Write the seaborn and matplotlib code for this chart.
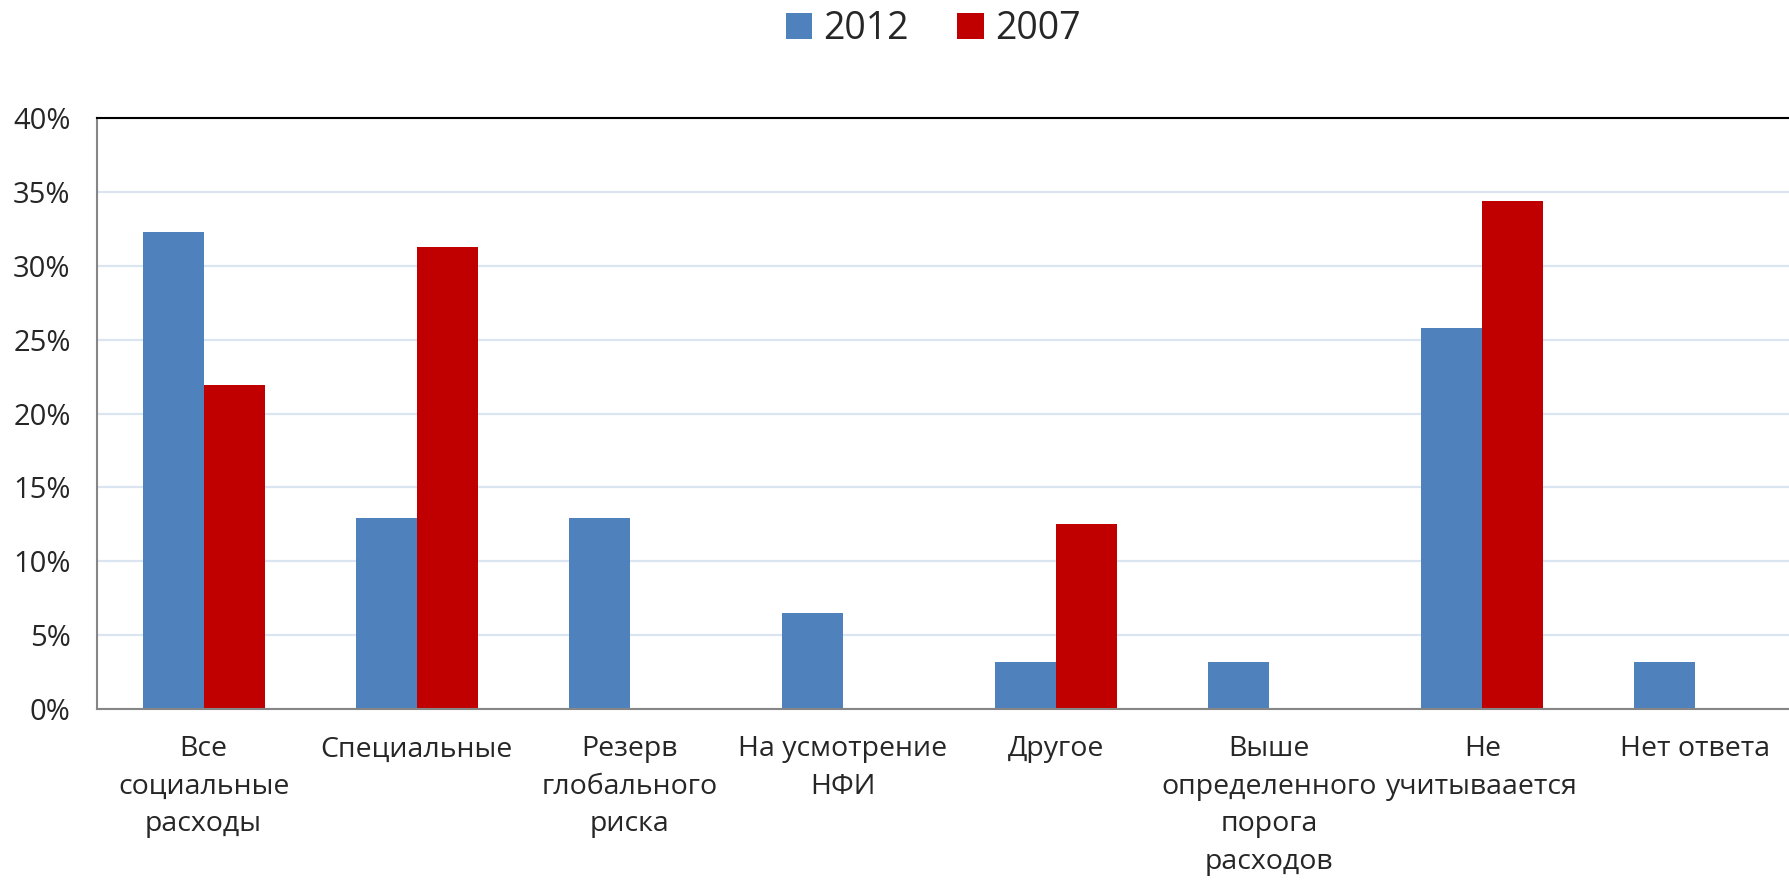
import matplotlib
matplotlib.use("Agg")
import matplotlib.pyplot as plt
from matplotlib.ticker import PercentFormatter, FixedLocator
import pandas as pd
import seaborn as sns

# Data (share of respondents, %)
categories = [
    "Все\nсоциальные\nрасходы",
    "Специальные",
    "Резерв\nглобального\nриска",
    "На усмотрение\nНФИ",
    "Другое",
    "Выше\nопределенного\nпорога\nрасходов",
    "Не\nучитываается",
    "Нет ответа",
]
years = ["2012", "2007"]
values_2012 = [32.3, 12.9, 12.9, 6.5, 3.2, 3.2, 25.8, 3.2]
values_2007 = [21.9, 31.3, 0.0, 0.0, 12.5, 0.0, 34.4, 0.0]
colors = {"2012": "#4f81bd", "2007": "#c00000"}

df = pd.DataFrame({
    "category": categories * 2,
    "year": [years[0]] * len(categories) + [years[1]] * len(categories),
    "value": values_2012 + values_2007,
})

sns.set_style("white")
plt.rcParams["font.family"] = ["Open Sans", "DejaVu Sans"]

fig = plt.figure(figsize=(17.9, 8.81), dpi=100)
ax = fig.add_axes([0.0542, 0.1952, 0.9525, 0.6708])

sns.barplot(data=df, x="category", y="value", hue="year", hue_order=years,
            palette=colors, width=0.573, gap=0, linewidth=0, saturation=1,
            ax=ax, legend=True)

ax.set_xlim(-0.5, len(categories) - 0.5)
ax.set_ylim(0, 40)
ax.yaxis.set_major_locator(FixedLocator([0, 5, 10, 15, 20, 25, 30, 35, 40]))
ax.yaxis.set_major_formatter(PercentFormatter(decimals=0))
ax.grid(axis="y", color="#dbe5f1", linewidth=1.6)
ax.set_axisbelow(True)

# category separators as minor ticks, labels without ticks
ax.xaxis.set_minor_locator(FixedLocator([i - 0.5 for i in range(len(categories) + 1)]))
ax.tick_params(axis="x", which="major", length=0, pad=19, labelsize=20.5)
ax.tick_params(axis="x", which="minor", length=8, width=1.5, color="#868686", direction="out")
ax.tick_params(axis="y", length=6, width=1.5, color="#868686", direction="out", labelsize=21, pad=13)
for lbl in ax.get_xticklabels():
    lbl.set_linespacing(1.45)

ax.set_xlabel("")
ax.set_ylabel("")
for side in ["left", "bottom"]:
    ax.spines[side].set_color("#868686")
    ax.spines[side].set_linewidth(1.5)
ax.spines["top"].set_color("black")
ax.spines["top"].set_linewidth(1.5)
ax.spines["right"].set_visible(False)

handles, labels = ax.get_legend_handles_labels()
ax.get_legend().remove()
fig.legend(handles, labels, loc="center", bbox_to_anchor=(933 / 1790, 1 - 29 / 881),
           ncol=2, frameon=False, fontsize=27, handlelength=0.7, handleheight=0.7,
           handletextpad=0.3, columnspacing=1.3)

fig.savefig("out.png", dpi=100)
